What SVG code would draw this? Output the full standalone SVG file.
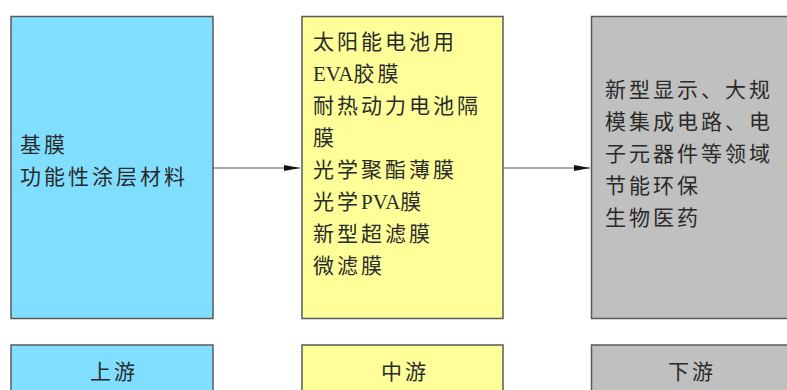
<svg xmlns="http://www.w3.org/2000/svg" width="787" height="390" viewBox="0 0 787 390">
<defs>
<style>
.box{stroke:#5a5a5a;stroke-width:1.5}
.up{fill:#80dfff}
.mid{fill:#ffff99}
.down{fill:#c0c0c0}
text{font-family:"Noto Sans CJK SC","Liberation Serif",serif;font-size:21px;fill:#2a2a2a;letter-spacing:3px}
.lat{font-family:"Liberation Serif",serif;letter-spacing:0px}
.c{text-anchor:middle}
.conn{stroke:#555;stroke-width:1.2;fill:none}
</style>
<marker id="ah" markerWidth="16" markerHeight="8" refX="16" refY="4" orient="auto" markerUnits="userSpaceOnUse">
<path d="M0,1 L16,4 L0,7 Z" fill="#111"/>
</marker>
</defs>
<rect width="787" height="390" fill="#fff"/>
<g id="connectors">
<line class="conn" x1="213" y1="168" x2="300" y2="168" marker-end="url(#ah)"/>
<line class="conn" x1="503" y1="168" x2="590" y2="168" marker-end="url(#ah)"/>
</g>
<g id="upstream">
<rect class="box up" x="11" y="16.5" width="202" height="302"/>
<text x="20" y="152">基膜</text>
<text x="20" y="184">功能性涂层材料</text>
</g>
<g id="midstream">
<rect class="box mid" x="302" y="16.5" width="201" height="302"/>
<text x="313" y="49">太阳能电池用</text>
<text x="313" y="81"><tspan class="lat">EVA</tspan>胶膜</text>
<text x="313" y="113">耐热动力电池隔</text>
<text x="313" y="145">膜</text>
<text x="313" y="177">光学聚酯薄膜</text>
<text x="313" y="209">光学<tspan class="lat">PVA</tspan>膜</text>
<text x="313" y="241">新型超滤膜</text>
<text x="313" y="273">微滤膜</text>
</g>
<g id="downstream">
<rect class="box down" x="591.5" y="16.5" width="200" height="302"/>
<text x="605" y="97">新型显示、大规</text>
<text x="605" y="129">模集成电路、电</text>
<text x="605" y="161">子元器件等领域</text>
<text x="605" y="193">节能环保</text>
<text x="605" y="225">生物医药</text>
</g>
<g id="label-up">
<rect class="box up" x="11" y="345" width="202" height="60"/>
<text class="c" x="114" y="379">上游</text>
</g>
<g id="label-mid">
<rect class="box mid" x="302" y="345" width="201" height="60"/>
<text class="c" x="405" y="379">中游</text>
</g>
<g id="label-down">
<rect class="box down" x="591.5" y="345" width="200" height="60"/>
<text class="c" x="692" y="379">下游</text>
</g>
</svg>
